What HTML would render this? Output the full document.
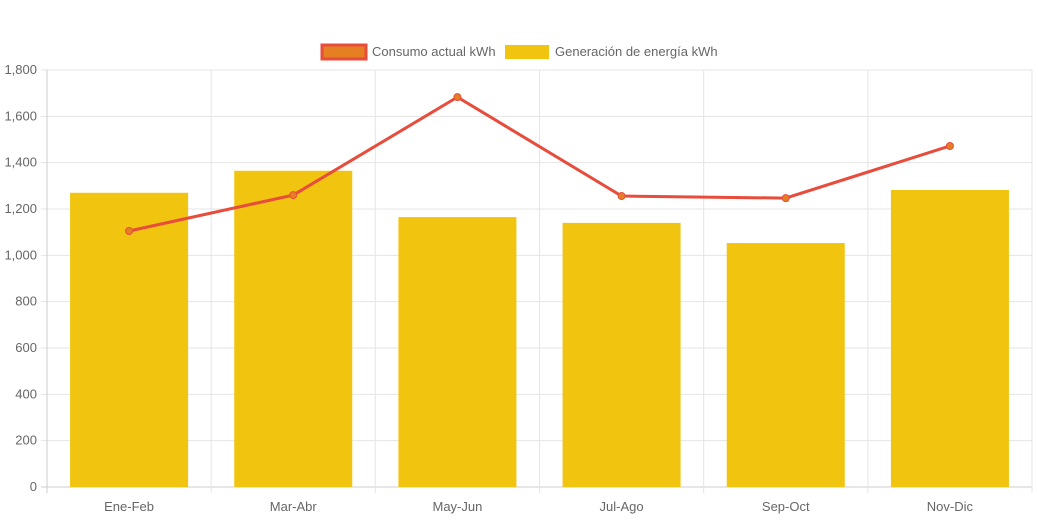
<!DOCTYPE html>
<html><head><meta charset="utf-8"><style>
body{margin:0;background:#fff;font-family:"Liberation Sans",sans-serif;}
svg text{font-family:"Liberation Sans",sans-serif;fill:#666;font-size:13px;}
</style></head><body>
<svg id="c" width="1038" height="518"></svg>
<script>
const categories=["Ene-Feb","Mar-Abr","May-Jun","Jul-Ago","Sep-Oct","Nov-Dic"];
const generation=[1270,1365,1165,1140,1053,1282];
const consumption=[1105,1260,1683,1256,1247,1472];
const yTicks=[0,200,400,600,800,1000,1200,1400,1600,1800];
const NS="http://www.w3.org/2000/svg";
const svg=document.getElementById('c');
const L=47,R=1032,T=70,B=487,yMax=1800;
const bw=(R-L)/categories.length;
const x=i=>L+bw*(i+0.5);
const y=v=>B-(v/yMax)*(B-T);
function el(t,a,p){const e=document.createElementNS(NS,t);for(const k in a)e.setAttribute(k,a[k]);(p||svg).appendChild(e);return e;}
yTicks.forEach(v=>{
 const g=el('line',{x1:L-6,x2:R,y1:y(v),y2:y(v),stroke:v===0?'#ccc':'#e5e5e5'});
 
 
 const t=el('text',{x:L-10,y:y(v)+4,'text-anchor':'end'});t.textContent=v.toLocaleString('en-US');
 
 
});
for(let i=0;i<=categories.length;i++){
 const g=el('line',{x1:L+bw*i,x2:L+bw*i,y1:T,y2:B+6,stroke:i===0?'#ccc':'#e5e5e5'});
 
 
}
categories.forEach((c,i)=>{
 const t=el('text',{x:x(i),y:511,'text-anchor':'middle'});t.textContent=c;
 
 
});
generation.forEach((v,i)=>{
 const r=el('rect',{x:x(i)-59,y:y(v),width:118,height:B-y(v),fill:'#f1c40f'});
 
 
});
const pl=el('polyline',{points:consumption.map((v,i)=>x(i)+','+y(v)).join(' '),fill:'none',stroke:'#e74c3c','stroke-width':3});


consumption.forEach((v,i)=>{
 const p=el('circle',{cx:x(i),cy:y(v),r:3.5,fill:'#e67e22',stroke:'#e74c3c','stroke-width':1});
 
 
});
const lg=el('g',{});


const s1=el('rect',{x:322,y:45,width:44,height:14,fill:'#e67e22',stroke:'#e74c3c','stroke-width':3},lg);


const t1=el('text',{x:372,y:56},lg);t1.textContent='Consumo actual kWh';


const s2=el('rect',{x:505,y:45,width:44,height:14,fill:'#f1c40f'},lg);


const t2=el('text',{x:555,y:56},lg);t2.textContent='Generación de energía kWh';


</script>
</body></html>
